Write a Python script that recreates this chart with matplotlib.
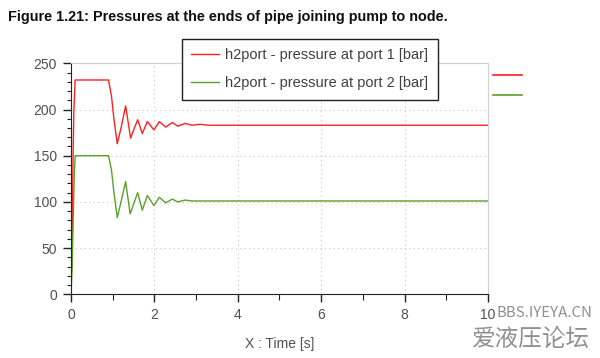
import matplotlib

matplotlib.use("Agg")
import matplotlib.pyplot as plt
from matplotlib.lines import Line2D
from matplotlib.ticker import MultipleLocator

plt.rcParams["font.family"] = ["Liberation Sans", "DejaVu Sans"]

# time samples [s] and pressures [bar]
t_port1 = [0.0, 0.02, 0.03, 0.05, 0.07, 0.1, 0.9, 0.97, 1.03, 1.11, 1.2, 1.31, 1.43, 1.52,
           1.6, 1.71, 1.83, 1.99, 2.12, 2.27, 2.43, 2.56, 2.74, 2.9, 3.1, 3.3, 3.5, 10.0]
p_port1 = [19, 90, 60, 150, 200, 232, 232, 215, 190, 163, 180, 204, 169, 180,
           189, 174, 187, 178, 187, 181, 186, 182, 185, 183, 184, 183, 183, 183]

t_port2 = [0.0, 0.03, 0.04, 0.06, 0.08, 0.1, 0.9, 0.97, 1.03, 1.11, 1.2, 1.31, 1.42, 1.52,
           1.6, 1.71, 1.83, 1.99, 2.12, 2.27, 2.43, 2.56, 2.74, 2.9, 3.1, 3.3, 3.5, 10.0]
p_port2 = [0, 30, 55, 93, 130, 150, 150, 135, 110, 83, 100, 122, 87, 100,
           110, 91, 107, 96, 105, 99, 103, 100, 102, 101, 101, 101, 101, 101]

labels = ["h2port - pressure at port 1 [bar]", "h2port - pressure at port 2 [bar]"]
colors = ["#ff2020", "#5aa02c"]

fig = plt.figure(figsize=(6.0, 3.58), dpi=100)
ax = fig.add_axes([0.1183, 0.178, 0.695, 0.645])

l1, = ax.plot(t_port1, p_port1, color=colors[0], linewidth=1.0)
l2, = ax.plot(t_port2, p_port2, color=colors[1], linewidth=1.0)

ax.set_xlim(0, 10)
ax.set_ylim(0, 250)
ax.xaxis.set_major_locator(MultipleLocator(2))
ax.xaxis.set_minor_locator(MultipleLocator(1))
ax.yaxis.set_major_locator(MultipleLocator(50))
ax.yaxis.set_minor_locator(MultipleLocator(10))
ax.grid(True, which="major", linestyle=(0, (1, 3)), color="#c8c8c8", linewidth=0.8)
ax.tick_params(which="major", length=6, width=1.0, color="#222222", labelsize=10,
               labelcolor="#505050", direction="out", pad=4)
ax.tick_params(which="minor", length=3, width=0.8, color="#222222", direction="out")
ax.tick_params(axis="x", which="minor", length=4)
ax.spines["left"].set_color("#222222")
ax.spines["bottom"].set_color("#222222")
ax.spines["top"].set_color("#d0d0d0")
ax.spines["right"].set_color("#d0d0d0")
ax.set_xlabel("X : Time [s]", fontsize=10, color="#505050", labelpad=11)

leg = fig.legend([l1, l2], labels, loc="upper left", bbox_to_anchor=(182 / 600, 1 - 39 / 358),
                 fontsize=10.5, frameon=True, fancybox=False, handlelength=1.9,
                 handletextpad=0.4, borderpad=0.65, labelspacing=0.95, borderaxespad=0)
leg.get_frame().set_edgecolor("#222222")
leg.get_frame().set_linewidth(1.0)
leg.get_frame().set_alpha(1.0)
for txt in leg.get_texts():
    txt.set_color("#404040")

# short unlabeled key lines on the right
fig.add_artist(Line2D([493 / 600, 522 / 600], [1 - 75 / 358] * 2, color=colors[0], linewidth=1.2))
fig.add_artist(Line2D([493 / 600, 522 / 600], [1 - 95 / 358] * 2, color=colors[1], linewidth=1.2))

fig.text(8 / 600, 1 - 17 / 358, "Figure 1.21: Pressures at the ends of pipe joining pump to node.",
         fontsize=10.4, fontweight="bold", va="center", ha="left", color="#111111")

# watermark
fig.text(592 / 600, 1 - 313 / 358, "BBS.IYEYA.CN", fontsize=10.8, color="#909090",
         ha="right", va="center", family=["Noto Sans CJK SC", "DejaVu Sans"])
fig.text(590 / 600, 1 - 339 / 358, "爱液压论坛", fontsize=17, color="#909090",
         ha="right", va="center", family=["Noto Sans CJK SC", "DejaVu Sans"])

fig.savefig("out.png", dpi=100)
plt.close()
